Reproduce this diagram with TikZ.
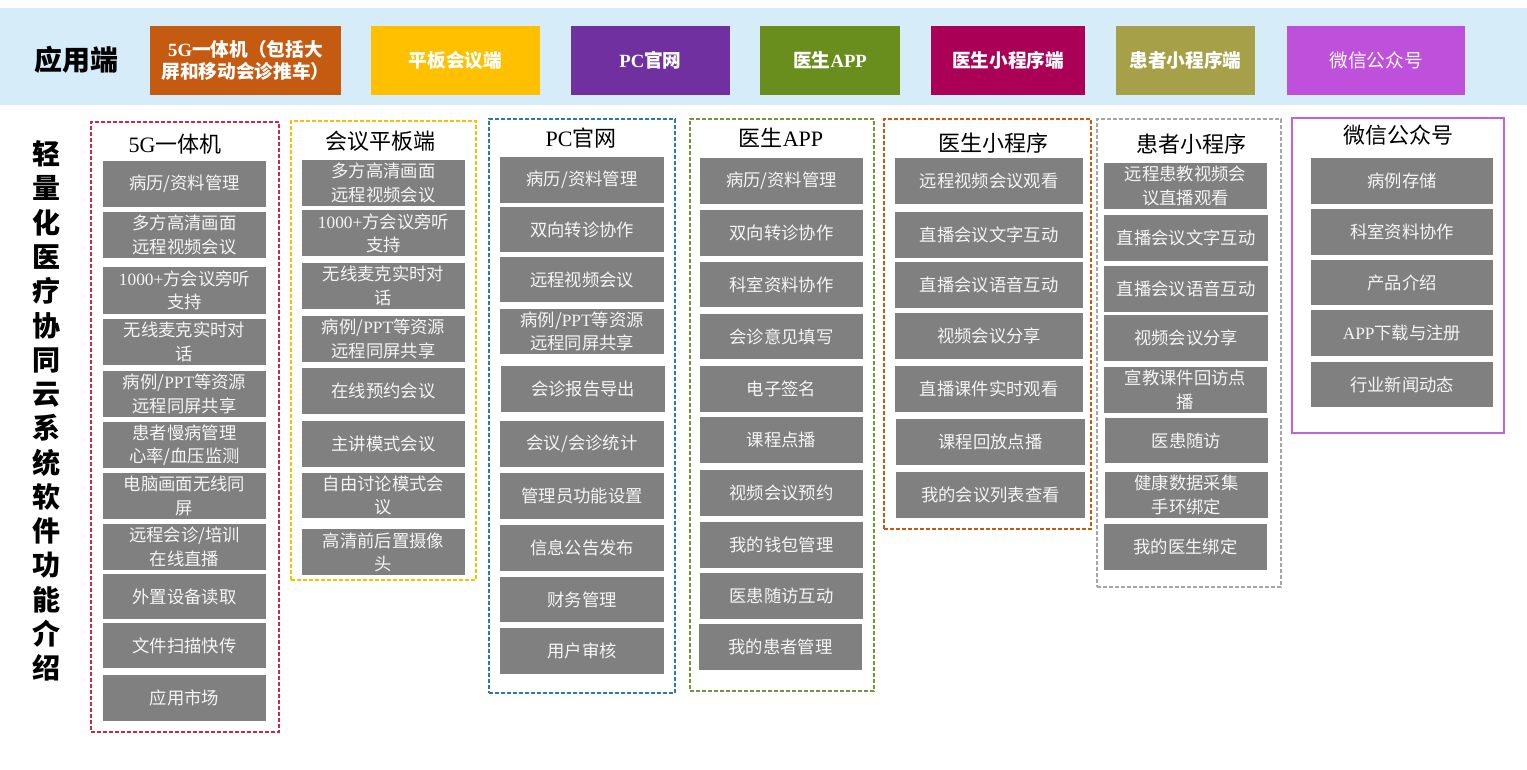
\documentclass[tikz,border=0pt]{standalone}
\usepackage{fontspec}
\setmainfont{Noto Sans CJK SC}
\newfontfamily\lat{Liberation Serif}
\definecolor{band}{RGB}{214,236,249}
\definecolor{boxgray}{RGB}{128,128,128}
\definecolor{boxtext}{RGB}{245,245,245}
\definecolor{hOrange}{RGB}{197,90,17}
\definecolor{hYellow}{RGB}{255,192,0}
\definecolor{hPurple}{RGB}{112,48,160}
\definecolor{hGreen}{RGB}{106,142,30}
\definecolor{hMagenta}{RGB}{170,0,85}
\definecolor{hOlive}{RGB}{166,160,72}
\definecolor{hViolet}{RGB}{190,80,220}
\definecolor{fRed}{RGB}{200,40,80}
\definecolor{fYellow}{RGB}{245,192,0}
\definecolor{fBlue}{RGB}{46,117,182}
\definecolor{fGreen}{RGB}{119,147,60}
\definecolor{fOrange}{RGB}{197,90,17}
\definecolor{fGray}{RGB}{166,166,166}
\definecolor{fViolet}{RGB}{190,100,220}
\tikzset{
  gbox/.style={fill=boxgray, text=boxtext, font=\fontsize{13}{17.5}\selectfont, align=center, inner sep=0pt},
  hbox/.style={text=white, font=\bfseries\fontsize{14}{17}\selectfont, align=center, inner sep=0pt},
  frame/.style={line width=1pt, dash pattern=on 3pt off 1.5pt, inner sep=0pt},
  ttl/.style={font=\fontsize{16.5}{20}\selectfont, inner sep=0pt, text=black},
}
\newcommand\gb[6]{\node[gbox, minimum width={(#4-#2)*0.75pt}, minimum height={(#5-#3)*0.75pt}] (#1) at ({(#2+#4)/2},{(#3+#5)/2}) {#6};}
\newcommand\hb[7]{\node[hbox, fill=#6, minimum width={(#4-#2)*0.75pt}, minimum height={(#5-#3)*0.75pt}] (#1) at ({(#2+#4)/2},{(#3+#5)/2}) {#7};}
\newcommand\fr[7]{\node[frame, draw=#6, #7, minimum width={(#4-#2)*0.75pt}, minimum height={(#5-#3)*0.75pt}] (#1) at ({(#2+#4)/2},{(#3+#5)/2}) {};}
\begin{document}
\begin{tikzpicture}[x=0.75pt,y=-0.75pt]
\useasboundingbox (0,0) rectangle (1527,769);
\fill[white] (0,0) rectangle (1527,769);
% header band
\node[fill=band, minimum width={1527*0.75pt}, minimum height={97*0.75pt}, inner sep=0pt] (band) at (763.5,56.5) {};
\node[font=\bfseries\fontsize{21}{24}\selectfont, inner sep=0pt] (app) at (76,60) {应用端};
\hb{h1}{150}{26}{341}{95}{hOrange}{{\lat 5G}一体机（包括大\\屏和移动会诊推车）}
\hb{h2}{371}{26}{540}{95}{hYellow}{平板会议端}
\hb{h3}{571}{26}{730}{95}{hPurple}{{\lat PC}官网}
\hb{h4}{760}{26}{900}{95}{hGreen}{医生{\lat APP}}
\hb{h5}{931}{26}{1085}{95}{hMagenta}{医生小程序端}
\hb{h6}{1116}{26}{1255}{95}{hOlive}{患者小程序端}
\node[hbox, font=\fontsize{14}{17}\selectfont, fill=hViolet, minimum width={178*0.75pt}, minimum height={69*0.75pt}] (h7) at (1376,60.5) {微信公众号};
% vertical title
\node[font=\bfseries\fontsize{21}{25.7}\selectfont, align=center, inner sep=0pt] (vt) at (46,411) {轻\\量\\化\\医\\疗\\协\\同\\云\\系\\统\\软\\件\\功\\能\\介\\绍};
% frames
\fr{f1}{91}{122}{279}{732}{fRed}{}
\fr{f2}{291}{121}{476}{580}{fYellow}{}
\fr{f3}{489}{119}{675}{693}{fBlue}{}
\fr{f4}{690}{119}{874}{691}{fGreen}{}
\fr{f5}{884}{119}{1091}{529}{fOrange}{}
\fr{f6}{1097}{119}{1281}{587}{fGray}{}
\node[draw=fViolet, line width=1.2pt, inner sep=0pt, minimum width={212*0.75pt}, minimum height={315*0.75pt}] (f7) at (1398,275.5) {};
% titles
\node[ttl] (t1) at (175,144) {{\lat 5G}一体机};
\node[ttl] (t2) at (380,141) {会议平板端};
\node[ttl] (t3) at (581,138) {{\lat PC}官网};
\node[ttl] (t4) at (781,138) {医生{\lat APP}};
\node[ttl] (t5) at (993,143) {医生小程序};
\node[ttl] (t6) at (1191,144) {患者小程序};
\node[ttl] (t7) at (1398,135) {微信公众号};
% column 1
\gb{a1}{103}{161}{266}{207}{病历/资料管理}
\gb{a2}{103}{212}{266}{258}{多方高清画面\\远程视频会议}
\gb{a3}{103}{267}{266}{314}{{\lat 1000+}方会议旁听\\支持}
\gb{a4}{103}{319}{266}{365}{无线麦克实时对\\话}
\gb{a5}{103}{371}{266}{417}{病例/{\lat PPT}等资源\\远程同屏共享}
\gb{a6}{103}{422}{266}{468}{患者慢病管理\\心率/血压监测}
\gb{a7}{103}{473}{266}{519}{电脑画面无线同\\屏}
\gb{a8}{103}{524}{266}{570}{远程会诊/培训\\在线直播}
\gb{a9}{103}{574}{266}{619}{外置设备读取}
\gb{a10}{103}{623}{266}{668}{文件扫描快传}
\gb{a11}{103}{675}{266}{721}{应用市场}
% column 2
\gb{b1}{302}{160}{465}{206}{多方高清画面\\远程视频会议}
\gb{b2}{302}{210}{465}{256}{{\lat 1000+}方会议旁听\\支持}
\gb{b3}{302}{263}{465}{309}{无线麦克实时对\\话}
\gb{b4}{302}{316}{465}{362}{病例/{\lat PPT}等资源\\远程同屏共享}
\gb{b5}{302}{368}{465}{414}{在线预约会议}
\gb{b6}{302}{421}{465}{467}{主讲模式会议}
\gb{b7}{302}{473}{465}{518}{自由讨论模式会\\议}
\gb{b8}{302}{529}{465}{575}{高清前后置摄像\\头}
% column 3
\gb{c1}{500}{157}{664}{203}{病历/资料管理}
\gb{c2}{500}{207}{664}{252}{双向转诊协作}
\gb{c3}{500}{257}{664}{302}{远程视频会议}
\gb{c4}{500}{309}{664}{354}{病例/{\lat PPT}等资源\\远程同屏共享}
\gb{c5}{501}{366}{665}{412}{会诊报告导出}
\gb{c6}{500}{421}{664}{467}{会议/会诊统计}
\gb{c7}{500}{473}{664}{519}{管理员功能设置}
\gb{c8}{500}{525}{664}{571}{信息公告发布}
\gb{c9}{500}{577}{664}{622}{财务管理}
\gb{c10}{500}{628}{664}{674}{用户审核}
% column 4
\gb{d1}{700}{158}{863}{204}{病历/资料管理}
\gb{d2}{700}{210}{863}{256}{双向转诊协作}
\gb{d3}{700}{262}{863}{307}{科室资料协作}
\gb{d4}{700}{314}{863}{359}{会诊意见填写}
\gb{d5}{700}{366}{863}{412}{电子签名}
\gb{d6}{700}{417}{863}{463}{课程点播}
\gb{d7}{700}{470}{863}{516}{视频会议预约}
\gb{d8}{700}{522}{863}{568}{我的钱包管理}
\gb{d9}{700}{573}{863}{619}{医患随访互动}
\gb{d10}{699}{624}{862}{670}{我的患者管理}
% column 5
\gb{e1}{895}{158}{1083}{204}{远程视频会议观看}
\gb{e2}{895}{212}{1083}{258}{直播会议文字互动}
\gb{e3}{895}{262}{1083}{308}{直播会议语音互动}
\gb{e4}{895}{313}{1083}{359}{视频会议分享}
\gb{e5}{895}{366}{1083}{412}{直播课件实时观看}
\gb{e6}{896}{419}{1085}{465}{课程回放点播}
\gb{e7}{896}{472}{1085}{518}{我的会议列表查看}
% column 6
\gb{g1}{1104}{163}{1267}{209}{远程患教视频会\\议直播观看}
\gb{g2}{1104}{215}{1268}{261}{直播会议文字互动}
\gb{g3}{1104}{266}{1268}{312}{直播会议语音互动}
\gb{g4}{1104}{315}{1268}{361}{视频会议分享}
\gb{g5}{1104}{367}{1267}{413}{宣教课件回访点\\播}
\gb{g6}{1105}{418}{1268}{463}{医患随访}
\gb{g7}{1105}{472}{1268}{518}{健康数据采集\\手环绑定}
\gb{g8}{1104}{524}{1267}{570}{我的医生绑定}
% column 7
\gb{k1}{1311}{158}{1493}{204}{病例存储}
\gb{k2}{1311}{209}{1493}{255}{科室资料协作}
\gb{k3}{1311}{260}{1493}{305}{产品介绍}
\gb{k4}{1311}{310}{1493}{356}{{\lat APP}下载与注册}
\gb{k5}{1311}{362}{1493}{407}{行业新闻动态}
\end{tikzpicture}
\end{document}
